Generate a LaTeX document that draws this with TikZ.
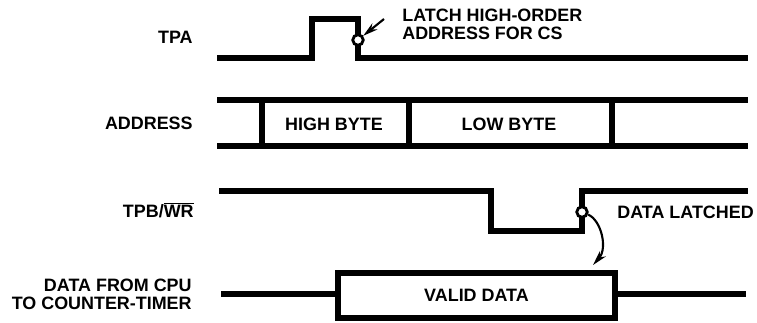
\documentclass[tikz,border=0pt]{standalone}
\usepackage{fontspec}
\setmainfont{Liberation Sans}
\usetikzlibrary{arrows.meta,positioning,calc}
\tikzset{
	signal/.style={
		line width=3.8pt
	},
	%
	siglabel/.style={
		font=\bfseries\fontsize{10.2}{10.2}\selectfont, anchor=east, align=right, inner sep=0pt
	},
	%
	note/.style={
		font=\bfseries\fontsize{10.2}{10.2}\selectfont, inner sep=0pt
	},
	%
	latchmark/.style={
		circle, draw=black, fill=white, line width=1.6pt, minimum size=2.1mm, inner sep=0pt
	},
	%
	pointer/.style={
		line width=1.2pt, -{Stealth[length=3mm, width=1.6mm]}
	}
}

\begin{document}
\begin{tikzpicture}[x=0.02cm, y=-0.02cm]
\useasboundingbox (0,0) rectangle (757,322);
% TPA
\node(tpa)[siglabel] at (193,37) {TPA};
\draw[signal] (217,58) -- (312,58) -- (312,19) -- (358,19) -- (358,58) -- (748,58);
\node(tpamark)[latchmark] at (358,40) {};
\node(latch)[note, anchor=west, align=left] at (402,24) {LATCH HIGH-ORDER\\ADDRESS FOR CS};
\coordinate(latchtail) at (384,19);
\draw[pointer] (latchtail) -- (tpamark);
% ADDRESS
\node(addr)[siglabel] at (193,123) {ADDRESS};
\draw[signal] (217,100) -- (748,100);
\draw[signal] (217,146) -- (748,146);
\foreach \x in {262,409,612}
	\draw[signal] (\x,100) -- (\x,146);
\node(high)[note] at (334,124) {HIGH BYTE};
\node(low)[note] at (509,124) {LOW BYTE};
% TPB/WR
\node(tpb)[siglabel] at (194,210) {TPB/$\overline{\hbox{WR}}$};
\draw[signal] (219,191) -- (491,191) -- (491,231) -- (582,231) -- (582,191) -- (748,191);
\node(tpbmark)[latchmark] at (582,212) {};
\node(latched)[note, anchor=west] at (617,212) {DATA LATCHED};
% DATA
\node(data)[siglabel] at (192,294) {DATA FROM CPU\\TO COUNTER-TIMER};
\node(valid)[draw, line width=3.8pt, minimum width=5.54cm, minimum height=0.9cm, font=\bfseries\fontsize{10.2}{10.2}\selectfont] at (476.5,295.5) {VALID DATA};
\coordinate(datastart) at (221,294);
\coordinate(dataend) at (746,294);
\draw[signal] (datastart) -- (valid.west |- datastart);
\draw[signal] (valid.east |- dataend) -- (dataend);
\coordinate(validtip) at (593,265);
\draw[pointer] (tpbmark) .. controls (601,220) and (608,248) .. (validtip);
\end{tikzpicture}
\end{document}
